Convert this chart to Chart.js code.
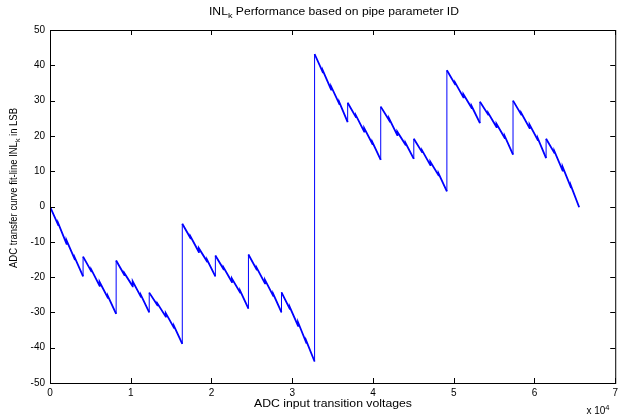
<!DOCTYPE html>
<html>
<head>
<meta charset="utf-8">
<script src="https://cdn.jsdelivr.net/npm/chart.js@4/dist/chart.umd.min.js"></script>
<style>
    html, body { margin: 0; padding: 0; background: #fff; }
    #wrap { width: 622px; height: 419px; }
</style>
</head>
<body>
<div id="wrap"><canvas id="inlChart" width="622" height="419"></canvas></div>
<script>
// ADC codes (x) and INL in LSB (y) (4096 codes each)
var codes = [
    0, 1023, 1024, 2047, 2048, 3071, 3072, 4095,
    4096, 5119, 5120, 6143, 6144, 7167, 7168, 8191,
    8192, 9215, 9216, 10239, 10240, 11263, 11264, 12287,
    12288, 13311, 13312, 14335, 14336, 15359, 15360, 16383,
    16384, 17407, 17408, 18431, 18432, 19455, 19456, 20479,
    20480, 21503, 21504, 22527, 22528, 23551, 23552, 24575,
    24576, 25599, 25600, 26623, 26624, 27647, 27648, 28671,
    28672, 29695, 29696, 30719, 30720, 31743, 31744, 32767,
    32768, 33791, 33792, 34815, 34816, 35839, 35840, 36863,
    36864, 37887, 37888, 38911, 38912, 39935, 39936, 40959,
    40960, 41983, 41984, 43007, 43008, 44031, 44032, 45055,
    45056, 46079, 46080, 47103, 47104, 48127, 48128, 49151,
    49152, 50175, 50176, 51199, 51200, 52223, 52224, 53247,
    53248, 54271, 54272, 55295, 55296, 56319, 56320, 57343,
    57344, 58367, 58368, 59391, 59392, 60415, 60416, 61439,
    61440, 62463, 62464, 63487, 63488, 64511, 64512, 65535
];
var inl = [
    0.0, -5.3, -4.8, -10.6, -9.6, -15.0, -14.5, -19.8,
    -14.2, -18.4, -17.9, -22.5, -21.4, -25.9, -25.4, -30.4,
    -15.3, -19.4, -18.9, -22.6, -21.2, -25.6, -25.1, -30.0,
    -24.4, -28.0, -27.5, -31.2, -30.2, -34.4, -33.9, -38.9,
    -4.9, -9.0, -8.5, -12.9, -11.8, -15.6, -15.1, -19.8,
    -13.9, -17.8, -17.3, -21.4, -20.4, -24.4, -23.9, -28.9,
    -13.6, -17.9, -17.4, -21.8, -20.8, -25.3, -24.8, -30.0,
    -24.3, -29.0, -28.5, -33.8, -32.8, -38.6, -38.1, -43.9,
    43.2, 38.0, 38.5, 33.1, 34.0, 29.0, 29.5, 23.9,
    29.4, 25.3, 25.8, 21.2, 22.2, 17.7, 18.2, 13.2,
    28.3, 24.5, 25.0, 20.2, 21.2, 17.5, 18.0, 13.5,
    19.2, 15.4, 15.9, 11.7, 12.7, 8.8, 9.3, 4.3,
    38.6, 34.6, 35.1, 30.9, 31.8, 27.9, 28.4, 23.6,
    29.7, 26.0, 26.5, 22.5, 23.4, 19.4, 19.9, 14.7,
    30.0, 26.0, 26.5, 22.2, 23.2, 18.8, 19.3, 13.7,
    19.2, 15.2, 15.7, 10.2, 11.2, 5.4, 5.9, -0.2
];
var xTicks = [0, 10000, 20000, 30000, 40000, 50000, 60000, 70000];
var yTicks = [-50, -40, -30, -20, -10, 0, 10, 20, 30, 40, 50];

var FONT = '"Liberation Sans", Arial, Helvetica, sans-serif';

// draw text made of pieces, some sub/superscript; optionally squeezed to a width
function drawParts(ctx, parts, x, y, size, fitWidth) {
    var widths = [], total = 0;
    parts.forEach(function (p) {
        var s = p[1] ? size * 0.75 : size;
        ctx.font = s + 'px ' + FONT;
        var w = ctx.measureText(p[0]).width;
        widths.push(w);
        total += w;
    });
    var sx = fitWidth ? fitWidth / total : 1;
    ctx.save();
    ctx.translate(x, y);
    ctx.scale(sx, 1);
    var cx = -total / 2;
    parts.forEach(function (p, i) {
        var s = p[1] ? size * 0.75 : size;
        var dy = p[1] === 'sub' ? size * 0.3 : (p[1] === 'sup' ? -size * 0.45 : 0);
        ctx.font = s + 'px ' + FONT;
        ctx.fillText(p[0], cx, dy);
        cx += widths[i];
    });
    ctx.restore();
}

var matlabFrame = {
    id: 'matlabFrame',
    afterDraw: function (chart) {
        var ctx = chart.ctx, a = chart.chartArea;
        var xs = chart.scales.x, ys = chart.scales.y;
        ctx.save();
        ctx.strokeStyle = '#000';
        ctx.lineWidth = 1;
        ctx.strokeRect(a.left + 0.5, a.top + 0.5, a.right - a.left, a.bottom - a.top);
        ctx.beginPath();
        xTicks.forEach(function (v) {
            var px = Math.round(xs.getPixelForValue(v)) + 0.5;
            ctx.moveTo(px, a.bottom); ctx.lineTo(px, a.bottom - 5);
            ctx.moveTo(px, a.top); ctx.lineTo(px, a.top + 5);
        });
        yTicks.forEach(function (v) {
            var py = Math.round(ys.getPixelForValue(v)) + 0.5;
            ctx.moveTo(a.left, py); ctx.lineTo(a.left + 5, py);
            ctx.moveTo(a.right, py); ctx.lineTo(a.right - 5, py);
        });
        ctx.stroke();

        ctx.fillStyle = '#000';
        ctx.textAlign = 'left';
        ctx.textBaseline = 'alphabetic';
        drawParts(ctx, [['INL'], ['k', 'sub'], [' Performance based on pipe parameter ID']], 334, 15, 10.5, 250);
        drawParts(ctx, [['ADC input transition voltages']], 333, 407, 10.5, 158);
        drawParts(ctx, [['x 10'], ['4', 'sup']], 598, 414, 10, null);

        ctx.save();
        ctx.translate(17, 188);
        ctx.rotate(-Math.PI / 2);
        drawParts(ctx, [['ADC transfer curve fit-line INL'], ['k', 'sub'], [' in LSB']], 0, 0, 10, 160);
        ctx.restore();
        ctx.restore();
    }
};

var points = codes.map(function (c, i) { return { x: c, y: inl[i] }; });

new Chart(document.getElementById('inlChart'), {
    type: 'line',
    data: {
        datasets: [{
            data: points,
            borderColor: '#0000ff',
            borderWidth: 1.8,
            pointRadius: 0,
            tension: 0,
            fill: false,
            segment: {
                // the code-to-code jumps are thin vertical strokes in the original
                borderWidth: function (ctx) {
                    return (ctx.p1.parsed.x - ctx.p0.parsed.x) < 2 && Math.abs(ctx.p1.parsed.y - ctx.p0.parsed.y) > 3 ? 1 : 1.8;
                }
            }
        }]
    },
    options: {
        responsive: false,
        animation: false,
        events: [],
        layout: { padding: { top: 30, right: 5, left: 0, bottom: 0 } },
        plugins: { legend: { display: false }, title: { display: false }, tooltip: { enabled: false } },
        scales: {
            x: {
                type: 'linear',
                min: 0,
                max: 70000,
                afterBuildTicks: function (scale) {
                    scale.ticks = xTicks.map(function (v) { return { value: v }; });
                },
                afterFit: function (scale) { scale.height = 36; },
                grid: { display: false, drawTicks: false },
                border: { display: false },
                ticks: {
                    color: '#000',
                    font: { family: FONT, size: 10 },
                    padding: 4,
                    maxRotation: 0,
                    autoSkip: false,
                    callback: function (v) { return v / 10000; }
                }
            },
            y: {
                min: -50,
                max: 50,
                afterBuildTicks: function (scale) {
                    scale.ticks = yTicks.map(function (v) { return { value: v }; });
                },
                afterFit: function (scale) { scale.width = 50; },
                grid: { display: false, drawTicks: false },
                border: { display: false },
                ticks: {
                    color: '#000',
                    font: { family: FONT, size: 10 },
                    padding: 5
                }
            }
        }
    },
    plugins: [matlabFrame]
});
</script>
</body>
</html>
